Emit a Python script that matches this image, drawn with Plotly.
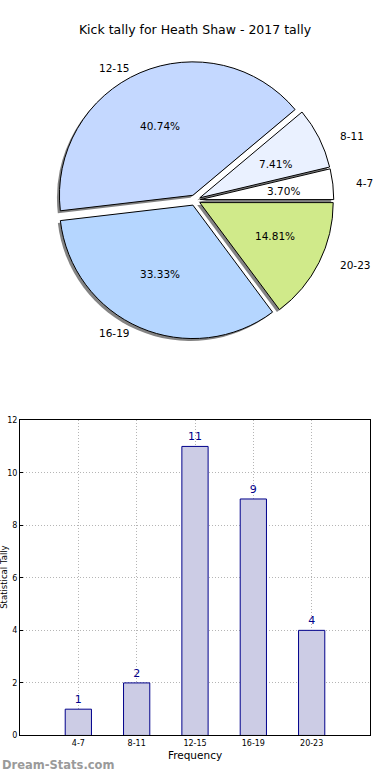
import math
import plotly.graph_objects as go

# ---- data ----
categories = ["4-7", "8-11", "12-15", "16-19", "20-23"]
tally = [1, 2, 11, 9, 4]
slice_colors = ["#ffffff", "#eaf1ff", "#c4d8ff", "#b5d6ff", "#d0ea8a"]
title_text = "Kick tally for Heath Shaw - 2017 tally"
y_ticks = [0, 2, 4, 6, 8, 10, 12]

# ---- layout constants (pixels) ----
W, H = 390, 780
FONT = "DejaVu Sans"
pie_cx, pie_cy = 195.0, 198.5      # centre of pie (px from top-left)
pie_r = 135.0                     # drawn radius
pull = 0.04
rx_txt, ry_txt = 141.0, 128.0     # text placement radii (reference is elliptical)
pull_px = 5.0


def px(x):
    return x / W


def py(y):
    return 1 - y / H


total = sum(tally)
# plotly's counterclockwise pies place the first slice clockwise of `rotation`;
# shift so that the first slice starts at 3 o'clock and runs counterclockwise
rotation = 90 - 360.0 * tally[0] / total

box = 2 * pie_r * (1 + pull)
dom_x = [px(pie_cx - box / 2), px(pie_cx + box / 2)]
dom_y = [py(pie_cy + box / 2), py(pie_cy - box / 2)]
sh = 2.5  # shadow offset px
dom_x_sh = [px(pie_cx - box / 2 - sh), px(pie_cx + box / 2 - sh)]
dom_y_sh = [py(pie_cy + box / 2 + sh), py(pie_cy - box / 2 + sh)]

fig = go.Figure()

# shadow
fig.add_trace(go.Pie(
    labels=categories, values=tally, sort=False, direction="counterclockwise",
    rotation=rotation, pull=[pull] * len(tally), textinfo="none", hoverinfo="skip",
    marker=dict(colors=["rgba(90,90,90,0.75)"] * len(tally), line=dict(width=0)),
    domain=dict(x=dom_x_sh, y=dom_y_sh), showlegend=False,
))
# main pie
fig.add_trace(go.Pie(
    labels=categories, values=tally, sort=False, direction="counterclockwise",
    rotation=rotation, pull=[pull] * len(tally), textinfo="none",
    marker=dict(colors=slice_colors, line=dict(color="#000000", width=1)),
    domain=dict(x=dom_x, y=dom_y), showlegend=False,
))

# pie labels and percentages
annotations = []
start = 0.0
for cat, v in zip(categories, tally):
    frac = v / total
    mid = math.radians((start + frac / 2) * 360)
    start += frac
    c, s = math.cos(mid), math.sin(mid)
    ox, oy = pull_px * c, pull_px * s
    lx = pie_cx + 1.1 * rx_txt * c + ox
    ly = pie_cy - (1.1 * ry_txt * s + oy)
    annotations.append(dict(
        x=px(lx), y=py(ly), xref="paper", yref="paper", text=cat,
        showarrow=False, xanchor="left" if c > 0 else "right", yanchor="middle",
        font=dict(family=FONT, size=10.5, color="#000000")))
    tx = pie_cx + 0.6 * rx_txt * c + ox
    ty = pie_cy - (0.6 * ry_txt * s + oy)
    annotations.append(dict(
        x=px(tx), y=py(ty), xref="paper", yref="paper",
        text=f"{frac * 100:.2f}%", showarrow=False, xanchor="center",
        yanchor="middle", font=dict(family=FONT, size=10.5, color="#000000")))

# bar chart
fig.add_trace(go.Bar(
    x=categories, y=tally, width=0.45, xaxis="x", yaxis="y",
    marker=dict(color="#ccccE5", line=dict(color="#00008b", width=1)),
    text=[str(v) for v in tally], textposition="outside", cliponaxis=False,
    textfont=dict(family=FONT, size=11, color="#00008b"), showlegend=False,
))

grid = dict(showgrid=True, gridcolor="#b5b5b5", griddash="1px,2px", gridwidth=1)
fig.update_layout(
    width=W, height=H, margin=dict(l=0, r=0, t=0, b=0),
    paper_bgcolor="white", plot_bgcolor="white",
    font=dict(family=FONT, color="#000000"),
    title=dict(text=title_text, x=0.5, xanchor="center", y=py(30), yref="container",
               yanchor="middle", font=dict(family=FONT, size=12.5, color="#000000")),
    xaxis=dict(domain=[px(20), px(370)], anchor="y", type="category",
               range=[-1, 5], tickfont=dict(size=8, family=FONT), ticks="",
               showline=True, linecolor="#000000", linewidth=1, mirror=True,
               title=dict(text="Frequency", font=dict(size=10.5, family=FONT),
                          standoff=4),
               zeroline=False, **grid),
    yaxis=dict(domain=[py(740), py(421)], anchor="x", range=[0, 12],
               tickvals=y_ticks, tickfont=dict(size=8, family=FONT),
               ticks="inside", ticklen=3, tickcolor="#000000",
               showline=True, linecolor="#000000", linewidth=1, mirror=True,
               zeroline=False, **grid),
    bargap=0.5,
)

annotations.append(dict(
    x=px(4.5), y=py(580), xref="paper", yref="paper", text="Statistical Tally",
    textangle=-90, showarrow=False, xanchor="center", yanchor="middle",
    font=dict(family=FONT, size=8.5, color="#000000")))
annotations.append(dict(
    x=0, y=py(770), xref="paper", yref="paper", text="<b>Dream-Stats.com</b>",
    showarrow=False, xanchor="left", yanchor="middle",
    font=dict(family=FONT, size=11.5, color="#9a9a9a")))
fig.update_layout(annotations=annotations)

fig.write_html(
    "out.html",
    config={"displayModeBar": False},
    post_script=("document.body.style.margin='0';document.body.style.padding='0';"
                 "document.documentElement.style.overflow='hidden';"
                 "document.body.style.overflow='hidden';"),
)
